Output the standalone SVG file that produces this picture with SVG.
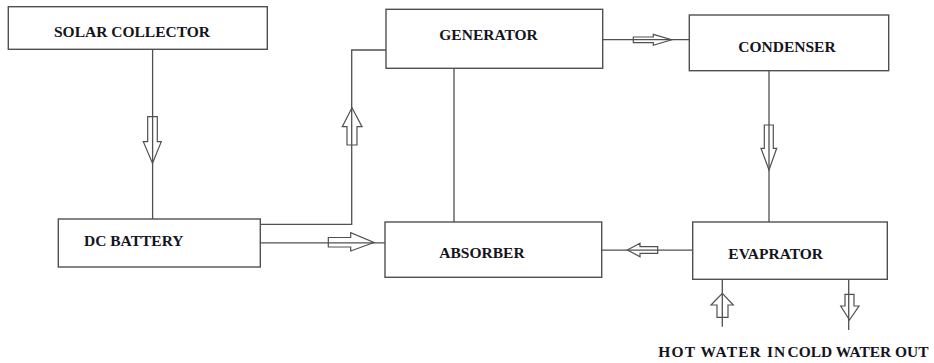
<svg xmlns="http://www.w3.org/2000/svg" width="934" height="363" viewBox="0 0 934 363">
<style>
.box{fill:#fff;stroke:#505050;stroke-width:1.4}
.ln{fill:none;stroke:#505050;stroke-width:1.3}
.ar{fill:none;stroke:#505050;stroke-width:1.2;stroke-linejoin:miter}
.t{font-family:"Liberation Serif","Times New Roman",serif;font-weight:bold;font-size:15.5px;fill:#141420}
</style>
<rect width="934" height="363" fill="#fff"/>
<g id="connectors">
<line class="ln" x1="152.6" y1="49.3" x2="152.6" y2="219"/>
<polyline class="ln" points="260.3,224.3 351.7,224.3 351.7,50 386,50"/>
<line class="ln" x1="260.3" y1="242.8" x2="385" y2="242.8"/>
<line class="ln" x1="454" y1="68.3" x2="454" y2="222"/>
<line class="ln" x1="602.7" y1="39.7" x2="689.3" y2="39.7"/>
<line class="ln" x1="769" y1="70.7" x2="769" y2="222"/>
<line class="ln" x1="601.7" y1="250.2" x2="692.7" y2="250.2"/>
<line class="ln" x1="722.3" y1="279.3" x2="722.3" y2="326.7"/>
<line class="ln" x1="848.7" y1="279.3" x2="848.7" y2="330"/>
<polygon class="ar" points="147.7,116.7 157.3,116.7 157.3,141.7 161.3,141.7 152.5,163.3 143.3,141.7 147.7,141.7"/>
<polygon class="ar" points="352,107.7 362,126.7 357,126.7 357,145 347,145 347,126.7 342.3,126.7"/>
<polygon class="ar" points="633.3,37 653.3,37 653.3,34.3 671.7,39.7 653.3,45.3 653.3,42.7 633.3,42.7"/>
<polygon class="ar" points="764.3,125 773.3,125 773.3,148.3 776.7,148.3 769,170 761,148.3 764.3,148.3"/>
<polygon class="ar" points="328.3,237.5 350.7,237.5 350.7,232.7 374,242.5 350.7,251 350.7,247 328.3,247"/>
<polygon class="ar" points="627.3,250 640,243.3 640,246.7 657.7,246.7 657.7,253.3 640,253.3 640,256.7"/>
<polygon class="ar" points="722.3,293.3 733.3,305 728,305 728,317.3 717,317.3 717,305 711,305"/>
<polygon class="ar" points="845,294.3 854,294.3 854,306 859,306 849.5,320 840.7,306 845,306"/>
</g>
<g id="solar-collector">
<rect class="box" x="8.3" y="6.7" width="259" height="42.6"/>
<text class="t" x="54" y="37">SOLAR COLLECTOR</text>
</g>
<g id="generator">
<rect class="box" x="386" y="9.3" width="216.7" height="59"/>
<text class="t" x="439.3" y="40">GENERATOR</text>
</g>
<g id="condenser">
<rect class="box" x="689.3" y="15" width="199.4" height="55.7"/>
<text class="t" x="738.3" y="51.7">CONDENSER</text>
</g>
<g id="dc-battery">
<rect class="box" x="58.3" y="219" width="202" height="48"/>
<text class="t" x="84" y="246">DC BATTERY</text>
</g>
<g id="absorber">
<rect class="box" x="385" y="222" width="216.7" height="55.3"/>
<text class="t" x="439.3" y="258.3">ABSORBER</text>
</g>
<g id="evaporator">
<rect class="box" x="692.7" y="222" width="194.6" height="57.3"/>
<text class="t" x="728.3" y="259.3">EVAPRATOR</text>
</g>
<g id="hot-water-in">
<text class="t" x="658.3" y="356.7" textLength="127" lengthAdjust="spacing">HOT WATER IN</text>
</g>
<g id="cold-water-out">
<text class="t" x="787.5" y="356.7" textLength="141" lengthAdjust="spacingAndGlyphs">COLD WATER OUT</text>
</g>
</svg>
